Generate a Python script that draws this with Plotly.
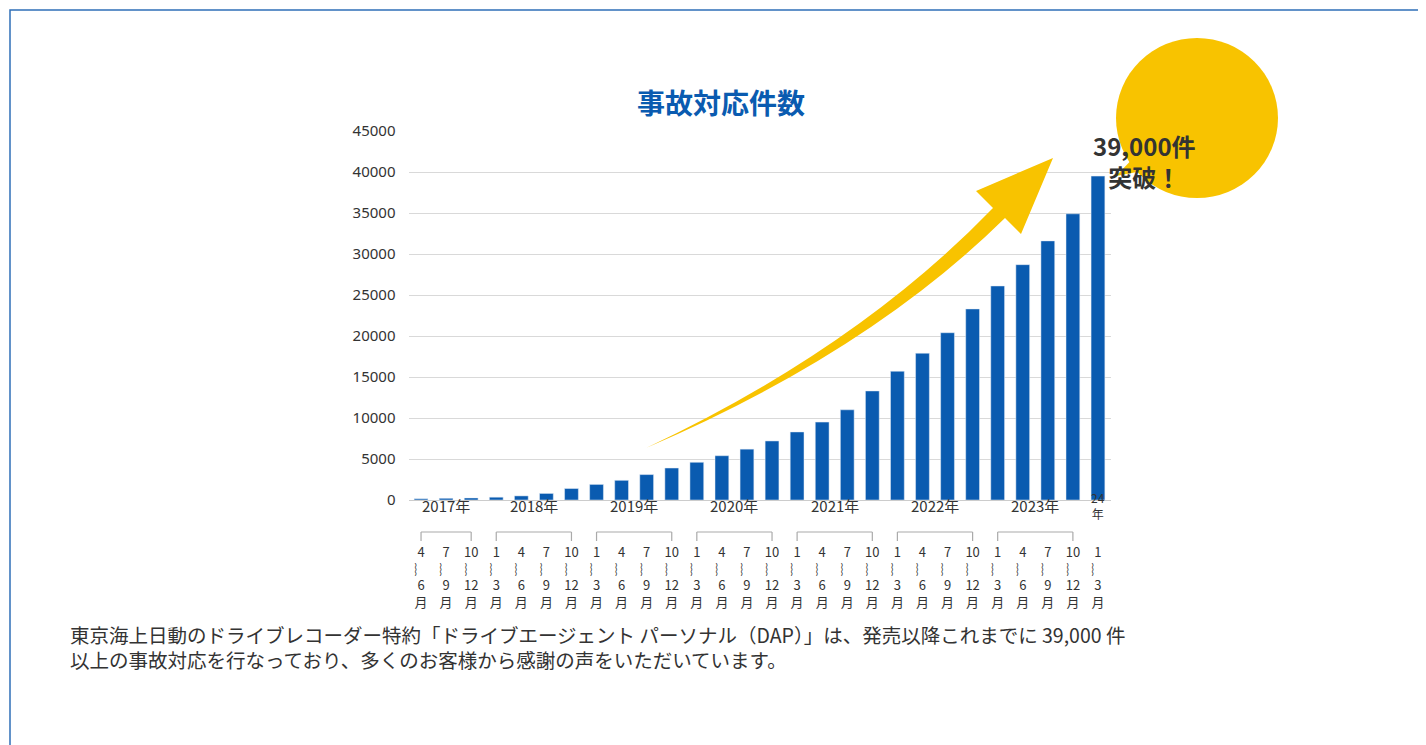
import plotly.graph_objs as go

W, H = 1426, 745

quarters = ["4<br>︴<br>6<br>月", "7<br>︴<br>9<br>月", "10<br>︴<br>12<br>月"] + \
    ["1<br>︴<br>3<br>月", "4<br>︴<br>6<br>月", "7<br>︴<br>9<br>月", "10<br>︴<br>12<br>月"] * 6 + \
    ["1<br>︴<br>3<br>月"]
counts = [150, 200, 250,
          350, 500, 800, 1400,
          1900, 2400, 3100, 3900,
          4600, 5400, 6200, 7200,
          8300, 9500, 11000, 13300,
          15700, 17900, 20400, 23300,
          26100, 28700, 31600, 34900,
          39500]
years = ["2017年", "2018年", "2019年", "2020年", "2021年", "2022年", "2023年"]
year_start = [0, 3, 7, 11, 15, 19, 23]
year_end = [2, 6, 10, 14, 18, 22, 26]

def px(x):
    return x / W

def py(y):
    return 1 - y / H

xs = list(range(len(counts)))
fig = go.Figure(go.Bar(x=xs, y=counts, marker_color="#0a5bb0", width=0.55))

font = "Noto Sans CJK JP"
shapes = [dict(type="rect", xref="paper", yref="paper", x0=px(2), x1=px(W - 2), y0=py(H - 2), y1=py(2),
               line=dict(color="#2f6fb8", width=1.5), layer="below")]
ann = []

# year brackets
for name, s, e in zip(years, year_start, year_end):
    for a, b, c, d in [(s, e, 524, 524), (s, s, 524, 533), (e, e, 524, 533)]:
        shapes.append(dict(type="line", xref="x", yref="paper", x0=a, x1=b, y0=py(c), y1=py(d),
                           line=dict(color="#aaaaaa", width=1.2)))
    ann.append(dict(x=(s + e) / 2, y=py(510), xref="x", yref="paper", text=name, showarrow=False,
                    font=dict(size=15, color="#333333", family=font)))
ann.append(dict(x=27, y=py(516), xref="x", yref="paper", text="24<br>年", showarrow=False,
                font=dict(size=12, color="#333333", family=font)))

# yellow arrow
arrow = ("M {} {} Q {} {} {} {} L {} {} L {} {} L {} {} L {} {} Q {} {} {} {} Z").format(
    px(638), py(440), px(850), py(340), px(985), py(200),
    px(968), py(183), px(1045), py(150), px(1013), py(226), px(997), py(210),
    px(860), py(345), px(638), py(440))
shapes.append(dict(type="path", xref="paper", yref="paper", path=arrow,
                   fillcolor="#f8c300", line=dict(width=0), layer="above"))

# bubble
shapes.append(dict(type="path", xref="paper", yref="paper",
                   path="M {} {} L {} {} L {} {} Z".format(px(1135), py(140), px(1108), py(168), px(1150), py(160)),
                   fillcolor="#f8c300", line=dict(width=0)))
shapes.append(dict(type="circle", xref="paper", yref="paper", x0=px(1108), x1=px(1270), y0=py(190), y1=py(30),
                   fillcolor="#f8c300", line=dict(width=0)))
ann.append(dict(x=px(1190), y=py(118), xref="paper", yref="paper", showarrow=False,
                text="<b>39,000件<br>突破！</b>", font=dict(size=24, color="#333333", family=font)))

ann.append(dict(x=px(713), y=py(72), xref="paper", yref="paper", showarrow=False,
                text="<b>事故対応件数</b>", font=dict(size=28, color="#0a5bb0", family=font)))
ann.append(dict(x=px(60), y=py(668), xref="paper", yref="paper", showarrow=False, xanchor="left", align="left",
                text="東京海上日動のドライブレコーダー特約「ドライブエージェント パーソナル（DAP）」は、発売以降これまでに 39,000 件<br>"
                     "以上の事故対応を行なっており、多くのお客様から感謝の声をいただいています。",
                font=dict(size=19.5, color="#333333", family=font)))

fig.update_layout(
    width=W, height=H, margin=dict(l=0, r=0, t=0, b=0),
    paper_bgcolor="white", plot_bgcolor="white", showlegend=False,
    font=dict(family=font, color="#333333"),
    shapes=shapes, annotations=ann,
    xaxis=dict(domain=[px(400.5), px(1102.5)], range=[-0.5, 27.5], tickvals=xs, ticktext=quarters,
               tickfont=dict(size=13, color="#333333"), showgrid=False, ticks="", ticklen=0,
               showline=True, linecolor="#cccccc", automargin=False, ticklabelstandoff=40),
    yaxis=dict(domain=[py(492), py(123)], range=[0, 45000], dtick=5000, tickformat="d",
               gridcolor="#d9d9d9", tickfont=dict(size=15, color="#333333", family="Noto Sans"),
               zeroline=False, ticklabelstandoff=12, automargin=False),
)
fig.update_layout(bargap=0.45)

fig.write_html("out.html")
